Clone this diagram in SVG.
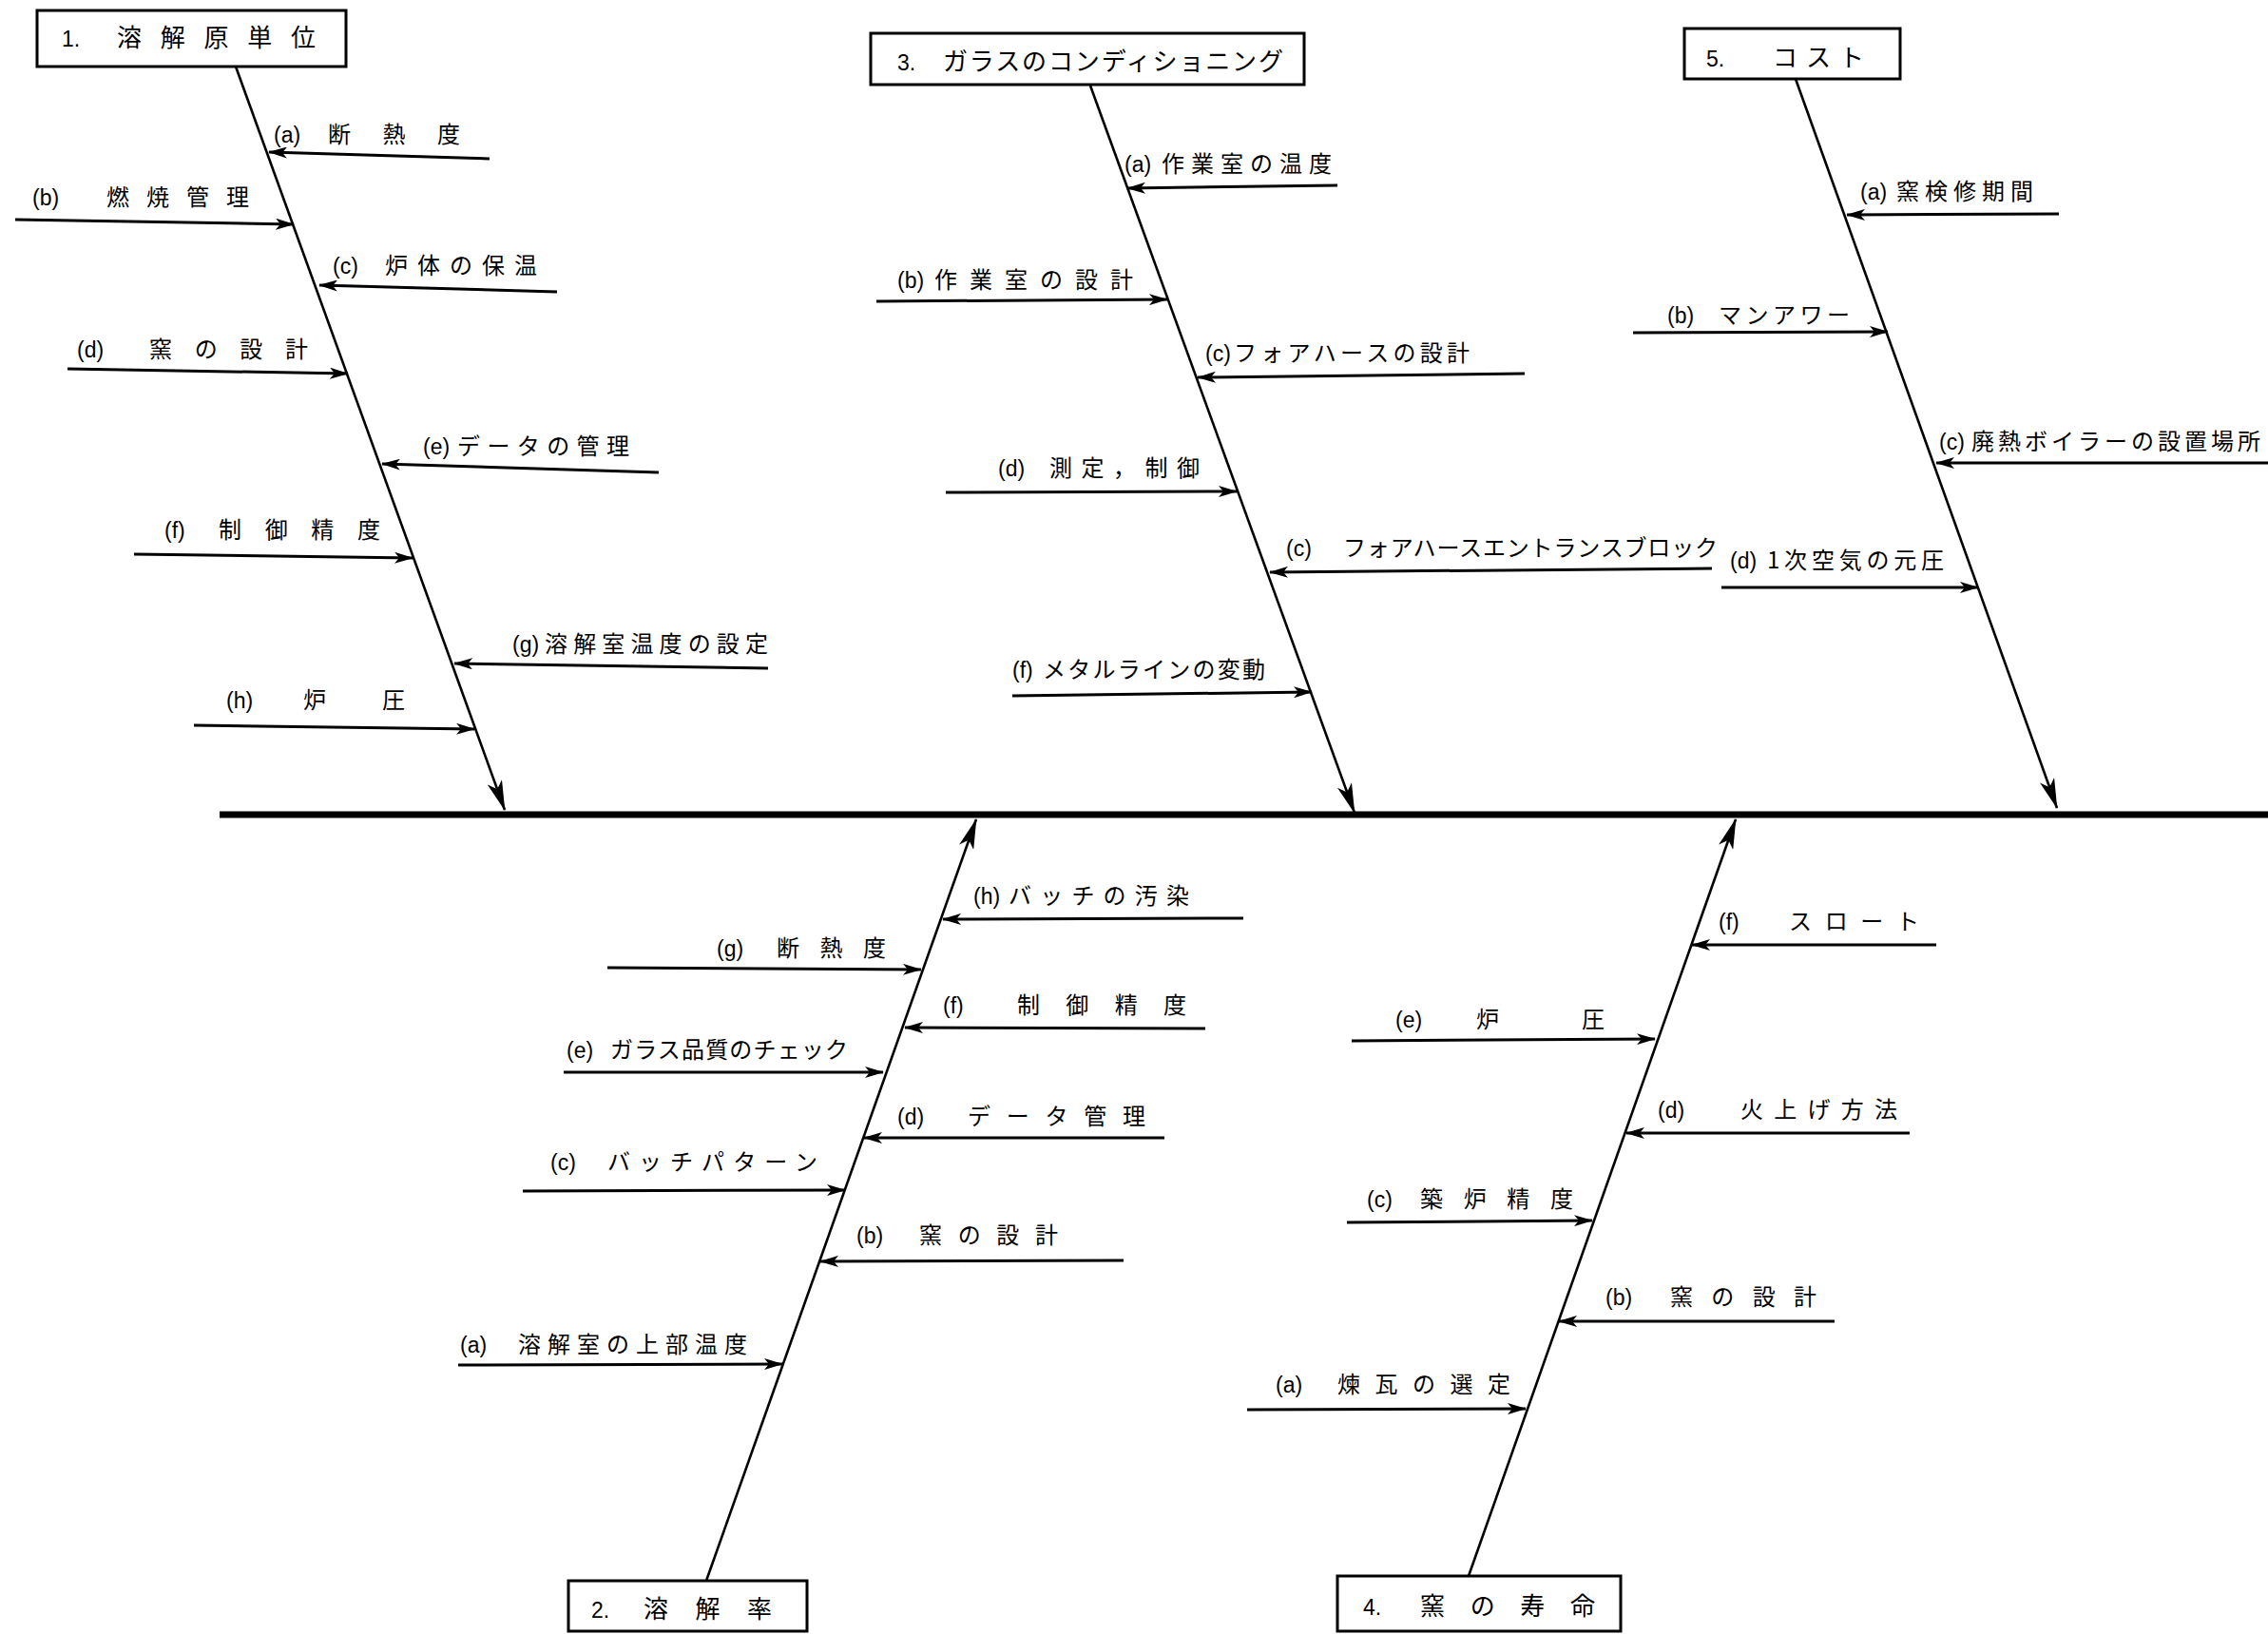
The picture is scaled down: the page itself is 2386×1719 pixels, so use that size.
<svg xmlns="http://www.w3.org/2000/svg" width="2386" height="1719" viewBox="0 0 2386 1719">
<style>
.t{font-family:"Noto Sans CJK JP","Noto Sans CJK SC",sans-serif;font-size:24px;fill:#000}
.lb{font-family:"Liberation Sans Narrow","Liberation Sans",sans-serif;font-size:23px;fill:#000}
.ti{font-family:"Noto Sans CJK JP","Noto Sans CJK SC",sans-serif;font-size:26px;fill:#000}
.box{fill:#fff;stroke:#000;stroke-width:3}
.sub{stroke:#000;stroke-width:3;fill:none;marker-end:url(#ah)}
.bone{stroke:#000;stroke-width:2.6;fill:none;marker-end:url(#big)}
.spine{stroke:#000;stroke-width:7;fill:none}
</style>
<defs>
<marker id="ah" viewBox="0 0 20 12" refX="19" refY="6" markerWidth="20" markerHeight="12" markerUnits="userSpaceOnUse" orient="auto"><path d="M0,0 L20,6 L0,12 L5,6 z" fill="#000"/></marker>
<marker id="big" viewBox="0 0 32 16" refX="31" refY="8" markerWidth="32" markerHeight="16" markerUnits="userSpaceOnUse" orient="auto"><path d="M0,0 L32,8 L0,16 L8,8 z" fill="#000"/></marker>
</defs>
<rect width="2386" height="1719" fill="#fff"/>

<g id="connectors">
<line class="spine" x1="231" y1="857" x2="2386" y2="857"/>
<line class="bone" x1="248" y1="70" x2="531" y2="852"/>
<line class="bone" x1="1147" y1="90" x2="1425" y2="855"/>
<line class="bone" x1="1889" y1="83" x2="2164" y2="850"/>
<line class="bone" x1="743" y1="1663" x2="1027" y2="862"/>
<line class="bone" x1="1545" y1="1658" x2="1826" y2="862"/>
<!-- bone 1 -->
<line class="sub" x1="515" y1="167" x2="283" y2="160"/>
<line class="sub" x1="16" y1="231" x2="309" y2="236"/>
<line class="sub" x1="586" y1="307" x2="336" y2="300"/>
<line class="sub" x1="71" y1="388" x2="366" y2="393"/>
<line class="sub" x1="693" y1="497" x2="402" y2="488"/>
<line class="sub" x1="141" y1="583" x2="434" y2="587"/>
<line class="sub" x1="808" y1="703" x2="478" y2="698"/>
<line class="sub" x1="204" y1="763" x2="499" y2="767"/>
<!-- bone 3 -->
<line class="sub" x1="1407" y1="195" x2="1186" y2="198"/>
<line class="sub" x1="922" y1="317" x2="1228" y2="315"/>
<line class="sub" x1="1604" y1="393" x2="1260" y2="397"/>
<line class="sub" x1="995" y1="518" x2="1301" y2="517"/>
<line class="sub" x1="1801" y1="598" x2="1336" y2="602"/>
<line class="sub" x1="1065" y1="732" x2="1380" y2="728"/>
<!-- bone 5 -->
<line class="sub" x1="2166" y1="225" x2="1943" y2="226"/>
<line class="sub" x1="1718" y1="350" x2="1986" y2="349"/>
<line class="sub" x1="2386" y1="487" x2="2037" y2="487"/>
<line class="sub" x1="1811" y1="618" x2="2081" y2="618"/>
<!-- bone 2 -->
<line class="sub" x1="1308" y1="966" x2="992" y2="967"/>
<line class="sub" x1="639" y1="1018" x2="969" y2="1020"/>
<line class="sub" x1="1268" y1="1082" x2="952" y2="1081"/>
<line class="sub" x1="593" y1="1128" x2="929" y2="1128"/>
<line class="sub" x1="1225" y1="1197" x2="909" y2="1197"/>
<line class="sub" x1="550" y1="1253" x2="889" y2="1252"/>
<line class="sub" x1="1182" y1="1326" x2="863" y2="1327"/>
<line class="sub" x1="482" y1="1436" x2="823" y2="1435"/>
<!-- bone 4 -->
<line class="sub" x1="2037" y1="994" x2="1780" y2="994"/>
<line class="sub" x1="1422" y1="1095" x2="1741" y2="1093"/>
<line class="sub" x1="2009" y1="1192" x2="1711" y2="1192"/>
<line class="sub" x1="1417" y1="1286" x2="1675" y2="1284"/>
<line class="sub" x1="1930" y1="1390" x2="1640" y2="1390"/>
<line class="sub" x1="1312" y1="1483" x2="1605" y2="1482"/>
</g>

<g id="node-1">
<rect class="box" x="39" y="11" width="325" height="59"/>
<text class="lb" x="65" y="49">1.</text>
<text class="ti" x="123" y="49" textLength="209" lengthAdjust="spacing">溶解原単位</text>
</g>
<g id="node-1a"><text class="lb" x="288" y="150">(a)</text><text class="t" x="345" y="150" textLength="139" lengthAdjust="spacing">断熱度</text></g>
<g id="node-1b"><text class="lb" x="34" y="216">(b)</text><text class="t" x="112" y="216" textLength="150" lengthAdjust="spacing">燃焼管理</text></g>
<g id="node-1c"><text class="lb" x="350" y="288">(c)</text><text class="t" x="405" y="288" textLength="160" lengthAdjust="spacing">炉体の保温</text></g>
<g id="node-1d"><text class="lb" x="81" y="376">(d)</text><text class="t" x="157" y="376" textLength="167" lengthAdjust="spacing">窯の設計</text></g>
<g id="node-1e"><text class="lb" x="445" y="478">(e)</text><text class="t" x="481" y="478" textLength="181" lengthAdjust="spacing">データの管理</text></g>
<g id="node-1f"><text class="lb" x="173" y="566">(f)</text><text class="t" x="230" y="566" textLength="170" lengthAdjust="spacing">制御精度</text></g>
<g id="node-1g"><text class="lb" x="539" y="686">(g)</text><text class="t" x="573" y="686" textLength="235" lengthAdjust="spacing">溶解室温度の設定</text></g>
<g id="node-1h"><text class="lb" x="238" y="745">(h)</text><text class="t" x="319" y="745" textLength="107" lengthAdjust="spacing">炉圧</text></g>

<g id="node-3">
<rect class="box" x="916" y="35" width="456" height="54"/>
<text class="lb" x="944" y="74">3.</text>
<text class="ti" x="992" y="74" textLength="358" lengthAdjust="spacing">ガラスのコンディショニング</text>
</g>
<g id="node-3a"><text class="lb" x="1183" y="181">(a)</text><text class="t" x="1222" y="181" textLength="179" lengthAdjust="spacing">作業室の温度</text></g>
<g id="node-3b"><text class="lb" x="944" y="303">(b)</text><text class="t" x="983" y="303" textLength="209" lengthAdjust="spacing">作業室の設計</text></g>
<g id="node-3c"><text class="lb" x="1268" y="380">(c)</text><text class="t" x="1298" y="380" textLength="248" lengthAdjust="spacing">フォアハースの設計</text></g>
<g id="node-3d"><text class="lb" x="1050" y="501">(d)</text><text class="t" x="1104" y="501" textLength="158" lengthAdjust="spacing">測定，制御</text></g>
<g id="node-3e"><text class="lb" x="1353" y="585">(c)</text><text class="t" x="1413" y="585" textLength="394" lengthAdjust="spacing">フォアハースエントランスブロック</text></g>
<g id="node-3f"><text class="lb" x="1065" y="713">(f)</text><text class="t" x="1097" y="713" textLength="234" lengthAdjust="spacing">メタルラインの変動</text></g>

<g id="node-5">
<rect class="box" x="1772" y="30" width="227" height="53"/>
<text class="lb" x="1795" y="70">5.</text>
<text class="ti" x="1865" y="70" textLength="96" lengthAdjust="spacing">コスト</text>
</g>
<g id="node-5a"><text class="lb" x="1957" y="210">(a)</text><text class="t" x="1995" y="210" textLength="144" lengthAdjust="spacing">窯検修期間</text></g>
<g id="node-5b"><text class="lb" x="1754" y="340">(b)</text><text class="t" x="1808" y="340" textLength="138" lengthAdjust="spacing">マンアワー</text></g>
<g id="node-5c"><text class="lb" x="2040" y="473">(c)</text><text class="t" x="2074" y="473" textLength="304" lengthAdjust="spacing">廃熱ボイラーの設置場所</text></g>
<g id="node-5d"><text class="lb" x="1820" y="598">(d)</text><text class="t" x="1859" y="598" textLength="186" lengthAdjust="spacing">1次空気の元圧</text></g>

<g id="node-2">
<rect class="box" x="598" y="1663" width="251" height="53"/>
<text class="lb" x="622" y="1702">2.</text>
<text class="ti" x="677" y="1702" textLength="135" lengthAdjust="spacing">溶解率</text>
</g>
<g id="node-2h"><text class="lb" x="1024" y="951">(h)</text><text class="t" x="1061" y="951" textLength="190" lengthAdjust="spacing">バッチの汚染</text></g>
<g id="node-2g"><text class="lb" x="754" y="1006">(g)</text><text class="t" x="817" y="1006" textLength="115" lengthAdjust="spacing">断熱度</text></g>
<g id="node-2f"><text class="lb" x="992" y="1066">(f)</text><text class="t" x="1070" y="1066" textLength="178" lengthAdjust="spacing">制御精度</text></g>
<g id="node-2e"><text class="lb" x="596" y="1113">(e)</text><text class="t" x="642" y="1113" textLength="250" lengthAdjust="spacing">ガラス品質のチェック</text></g>
<g id="node-2d"><text class="lb" x="944" y="1183">(d)</text><text class="t" x="1018" y="1183" textLength="187" lengthAdjust="spacing">データ管理</text></g>
<g id="node-2c"><text class="lb" x="579" y="1231">(c)</text><text class="t" x="639" y="1231" textLength="221" lengthAdjust="spacing">バッチパターン</text></g>
<g id="node-2b"><text class="lb" x="901" y="1308">(b)</text><text class="t" x="967" y="1308" textLength="146" lengthAdjust="spacing">窯の設計</text></g>
<g id="node-2a"><text class="lb" x="484" y="1423">(a)</text><text class="t" x="545" y="1423" textLength="241" lengthAdjust="spacing">溶解室の上部温度</text></g>

<g id="node-4">
<rect class="box" x="1407" y="1658" width="298" height="58"/>
<text class="lb" x="1434" y="1699">4.</text>
<text class="ti" x="1494" y="1699" textLength="184" lengthAdjust="spacing">窯の寿命</text>
</g>
<g id="node-4f"><text class="lb" x="1808" y="978">(f)</text><text class="t" x="1882" y="978" textLength="137" lengthAdjust="spacing">スロート</text></g>
<g id="node-4e"><text class="lb" x="1468" y="1081">(e)</text><text class="t" x="1553" y="1081" textLength="135" lengthAdjust="spacing">炉圧</text></g>
<g id="node-4d"><text class="lb" x="1744" y="1176">(d)</text><text class="t" x="1831" y="1176" textLength="165" lengthAdjust="spacing">火上げ方法</text></g>
<g id="node-4c"><text class="lb" x="1438" y="1270">(c)</text><text class="t" x="1494" y="1270" textLength="161" lengthAdjust="spacing">築炉精度</text></g>
<g id="node-4b"><text class="lb" x="1689" y="1373">(b)</text><text class="t" x="1757" y="1373" textLength="154" lengthAdjust="spacing">窯の設計</text></g>
<g id="node-4a"><text class="lb" x="1342" y="1465">(a)</text><text class="t" x="1407" y="1465" textLength="182" lengthAdjust="spacing">煉瓦の選定</text></g>
</svg>
